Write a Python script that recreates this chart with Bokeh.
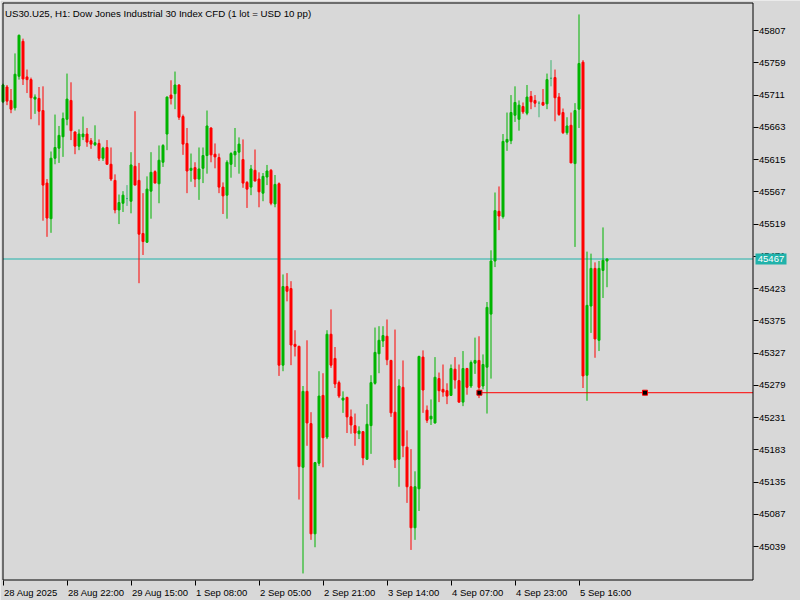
from bokeh.plotting import figure
from bokeh.models import ColumnDataSource, FixedTicker, Range1d, LinearAxis
from bokeh.embed import file_html
from bokeh.resources import INLINE
from bokeh.core.properties import value

# ---- data ----
opens = [45701, 45723, 45703, 45692, 45739, 45791, 45738, 45734, 45705, 45706,
         45688, 45580, 45527, 45617, 45632, 45649, 45675, 45703, 45656, 45635,
         45649, 45653, 45643, 45637, 45639, 45617, 45633, 45608, 45584, 45540,
         45550, 45557, 45553, 45605, 45584, 45505, 45492, 45568, 45597, 45579,
         45611, 45653, 45711, 45713, 45726, 45679, 45639, 45599, 45603, 45586,
         45602, 45621, 45662, 45623, 45618, 45574, 45562, 45608, 45622, 45626,
         45615, 45581, 45574, 45599, 45586, 45565, 45589, 45599, 45549, 45579,
         45309, 45426, 45423, 45340, 45337, 45157, 45270, 45222, 45058, 45163,
         45264, 45202, 45355, 45319, 45283, 45257, 45261, 45232, 45219, 45207,
         45210, 45169, 45219, 45282, 45326, 45345, 45352, 45316, 45239, 45169,
         45276, 45187, 45128, 45067, 45125, 45321, 45242, 45229, 45223, 45289,
         45273, 45271, 45264, 45303, 45286, 45254, 45304, 45278, 45312, 45316,
         45278, 45306, 45385, 45464, 45538, 45530, 45641, 45643, 45681, 45675,
         45694, 45684, 45709, 45703, 45699, 45700, 45698, 45736, 45737, 45708,
         45685, 45655, 45666, 45609, 45690, 45760, 45294, 45397, 45453, 45346,
         45450, 45464]
highs = [45728, 45726, 45720, 45773, 45801, 45795, 45749, 45737, 45712, 45723,
         45724, 45586, 45627, 45682, 45665, 45685, 45743, 45730, 45657, 45660,
         45679, 45662, 45647, 45666, 45645, 45634, 45644, 45633, 45593, 45563,
         45568, 45577, 45626, 45687, 45610, 45565, 45590, 45626, 45599, 45636,
         45638, 45709, 45733, 45746, 45727, 45682, 45662, 45624, 45611, 45633,
         45633, 45688, 45663, 45639, 45624, 45581, 45614, 45626, 45662, 45648,
         45645, 45583, 45607, 45630, 45596, 45595, 45607, 45601, 45592, 45581,
         45444, 45446, 45434, 45361, 45338, 45278, 45346, 45239, 45165, 45300,
         45297, 45361, 45392, 45336, 45286, 45270, 45262, 45243, 45237, 45218,
         45211, 45251, 45294, 45365, 45367, 45367, 45377, 45317, 45362, 45288,
         45316, 45212, 45184, 45151, 45323, 45331, 45249, 45258, 45321, 45298,
         45310, 45282, 45310, 45321, 45310, 45330, 45305, 45316, 45350, 45352,
         45325, 45403, 45480, 45566, 45575, 45653, 45685, 45711, 45724, 45703,
         45700, 45726, 45717, 45711, 45702, 45720, 45743, 45763, 45749, 45714,
         45691, 45678, 45685, 45699, 45831, 45763, 45478, 45475, 45462, 45464,
         45514, 45468]
lows = [45699, 45696, 45684, 45688, 45734, 45726, 45714, 45675, 45683, 45666,
        45524, 45500, 45506, 45608, 45610, 45619, 45666, 45644, 45623, 45629,
        45644, 45634, 45631, 45635, 45613, 45613, 45608, 45583, 45535, 45519,
        45537, 45546, 45535, 45577, 45431, 45473, 45491, 45527, 45580, 45550,
        45604, 45629, 45697, 45690, 45674, 45622, 45565, 45582, 45574, 45555,
        45580, 45594, 45611, 45602, 45565, 45534, 45527, 45588, 45604, 45594,
        45573, 45543, 45562, 45583, 45544, 45553, 45577, 45547, 45544, 45293,
        45300, 45404, 45309, 45322, 45109, 44999, 45189, 45049, 45038, 45159,
        45157, 45199, 45305, 45275, 45260, 45238, 45208, 45207, 45189, 45199,
        45160, 45168, 45177, 45280, 45297, 45336, 45309, 45232, 45156, 45128,
        45172, 45104, 45034, 45049, 45092, 45238, 45223, 45220, 45222, 45254,
        45262, 45251, 45264, 45274, 45253, 45248, 45265, 45275, 45296, 45260,
        45273, 45237, 45289, 45455, 45510, 45527, 45628, 45638, 45671, 45658,
        45683, 45681, 45690, 45693, 45678, 45696, 45690, 45724, 45672, 45680,
        45653, 45652, 45610, 45485, 45662, 45275, 45256, 45357, 45320, 45330,
        45409, 45425]
closes = [45726, 45702, 45690, 45742, 45800, 45735, 45734, 45707, 45708, 45687,
          45577, 45528, 45617, 45633, 45651, 45676, 45705, 45658, 45635, 45653,
          45653, 45641, 45638, 45640, 45617, 45632, 45608, 45586, 45540, 45551,
          45562, 45557, 45607, 45577, 45504, 45493, 45571, 45596, 45580, 45614,
          45636, 45708, 45706, 45726, 45678, 45638, 45598, 45602, 45586, 45601,
          45621, 45665, 45622, 45619, 45574, 45561, 45611, 45624, 45627, 45638,
          45580, 45571, 45601, 45583, 45567, 45590, 45598, 45550, 45578, 45309,
          45426, 45419, 45339, 45337, 45158, 45270, 45223, 45058, 45164, 45263,
          45201, 45355, 45309, 45281, 45263, 45260, 45232, 45220, 45208, 45211,
          45171, 45221, 45283, 45328, 45346, 45353, 45317, 45238, 45168, 45278,
          45189, 45128, 45067, 45128, 45322, 45272, 45227, 45233, 45291, 45271,
          45269, 45263, 45304, 45287, 45254, 45304, 45276, 45313, 45316, 45276,
          45310, 45395, 45464, 45539, 45531, 45642, 45645, 45685, 45700, 45696,
          45686, 45708, 45701, 45699, 45699, 45696, 45734, 45736, 45707, 45682,
          45655, 45665, 45610, 45688, 45758, 45293, 45398, 45453, 45348, 45453,
          45465, 45467]

time_ticks = [0, 16, 32, 48, 64, 80, 96, 112, 128, 144]
time_labels = ["28 Aug 2025", "28 Aug 22:00", "29 Aug 15:00", "1 Sep 08:00",
               "2 Sep 05:00", "2 Sep 21:00", "3 Sep 14:00", "4 Sep 07:00",
               "4 Sep 23:00", "5 Sep 16:00"]
price_ticks = [45039, 45087, 45135, 45183, 45231, 45279, 45327, 45375, 45423,
               45471, 45519, 45567, 45615, 45663, 45711, 45759, 45807]
last_price = 45467
trade_price = 45268
trade_marks = [119.1, 160.5]
title_text = "US30.U25, H1:  Dow Jones Industrial 30 Index CFD (1 lot = USD 10 pp)"

# ---- layout / styles ----
BG = "#d8d8d8"
GREEN = "#00b400"
RED = "#ff0000"
DOJI = "#3cb371"
TEAL = "#20b2aa"
FONT = "Liberation Sans"
FS = "9.5px"
PX_PER_BAR = 4.0
PTS_PER_PX = 768 / 516.0
X0, X1 = -0.625, 199.375                   # whole canvas in bar units
Y1 = last_price + 258.5 * PTS_PER_PX       # price at canvas top
Y0 = Y1 - 600 * PTS_PER_PX                 # price at canvas bottom
x_left, x_right = 0.0, 187.5               # chart border (bars)
y_top = Y1 - 2.5 * PTS_PER_PX              # chart border (price)
y_bot = Y1 - 579.5 * PTS_PER_PX

n = len(opens)
bars = list(range(n))
colors = [GREEN if c > o else (RED if c < o else DOJI) for o, c in zip(opens, closes)]
src = ColumnDataSource(dict(
    x=bars, h=highs, l=lows,
    top=[max(o, c) for o, c in zip(opens, closes)],
    bottom=[min(o, c) for o, c in zip(opens, closes)],
    color=colors))

p = figure(width=800, height=600,
           x_range=Range1d(X0, X1), y_range=Range1d(Y0, Y1),
           x_axis_location=None, y_axis_location=None,
           output_backend="svg", toolbar_location=None,
           min_border=0, background_fill_color=BG, border_fill_color=BG,
           outline_line_color=None)
p.grid.visible = False

# price line
p.segment(x0=[x_left], y0=[last_price], x1=[x_right], y1=[last_price],
          line_color=TEAL, line_width=1)

# candles
p.segment(x0="x", y0="l", x1="x", y1="h", line_color="color", line_width=1, source=src)
p.vbar(x="x", top="top", bottom="bottom", width=0.5, fill_color="color",
       line_color="color", line_width=1, source=src)

# trade line + markers
p.segment(x0=[trade_marks[0]], y0=[trade_price], x1=[x_right], y1=[trade_price],
          line_color=RED, line_width=1)
p.scatter(x=trade_marks, y=[trade_price] * len(trade_marks), marker="square", size=5,
          fill_color="black", line_color=RED, line_width=1)

# chart border
p.line(x=[x_left, x_left, x_right, x_right, x_left],
       y=[y_bot, y_top, y_top, y_bot, y_bot], line_color="black", line_width=1)

# price axis (right side of chart)
yax = LinearAxis(fixed_location=x_right, ticker=FixedTicker(ticks=price_ticks),
                 major_label_overrides={t: str(t) for t in price_ticks})
# time axis (bottom of chart)
xax = LinearAxis(fixed_location=y_bot, ticker=FixedTicker(ticks=time_ticks),
                 major_label_overrides={t: "" for t in time_ticks})
for ax in (xax, yax):
    ax.axis_line_color = None
    ax.major_tick_line_color = "black"
    ax.major_tick_out = 5
    ax.major_tick_in = 0
    ax.minor_tick_out = 0
    ax.minor_tick_in = 0
    ax.major_label_standoff = 1
    ax.major_label_text_font = FONT
    ax.major_label_text_font_size = FS
    ax.major_label_text_color = "black"
p.add_layout(yax, "right")
p.add_layout(xax, "below")

# time labels, left-aligned at their ticks
p.text(x=time_ticks, y=[y_bot] * len(time_ticks), text=time_labels,
       x_offset=1, y_offset=12.5, text_align="left", text_baseline="alphabetic",
       text_font=value(FONT), text_font_size=FS, text_color="black")

# title
p.text(x=[x_left], y=[y_top], text=[title_text], x_offset=2, y_offset=10.5,
       text_align="left", text_baseline="alphabetic",
       text_font=value(FONT), text_font_size="9.7px", text_color="black")

# current price tag
tag_x = x_right + 18 / PX_PER_BAR
p.rect(x=[tag_x], y=[last_price], width=31, height=11, width_units="screen",
       height_units="screen", fill_color=TEAL, line_color=None, level="overlay")
p.text(x=[tag_x], y=[last_price], text=[str(last_price)], text_align="center",
       text_baseline="middle", text_font=value(FONT), text_font_size=FS,
       text_color="white", level="overlay")

open("out.html", "w").write(file_html(p, INLINE))
